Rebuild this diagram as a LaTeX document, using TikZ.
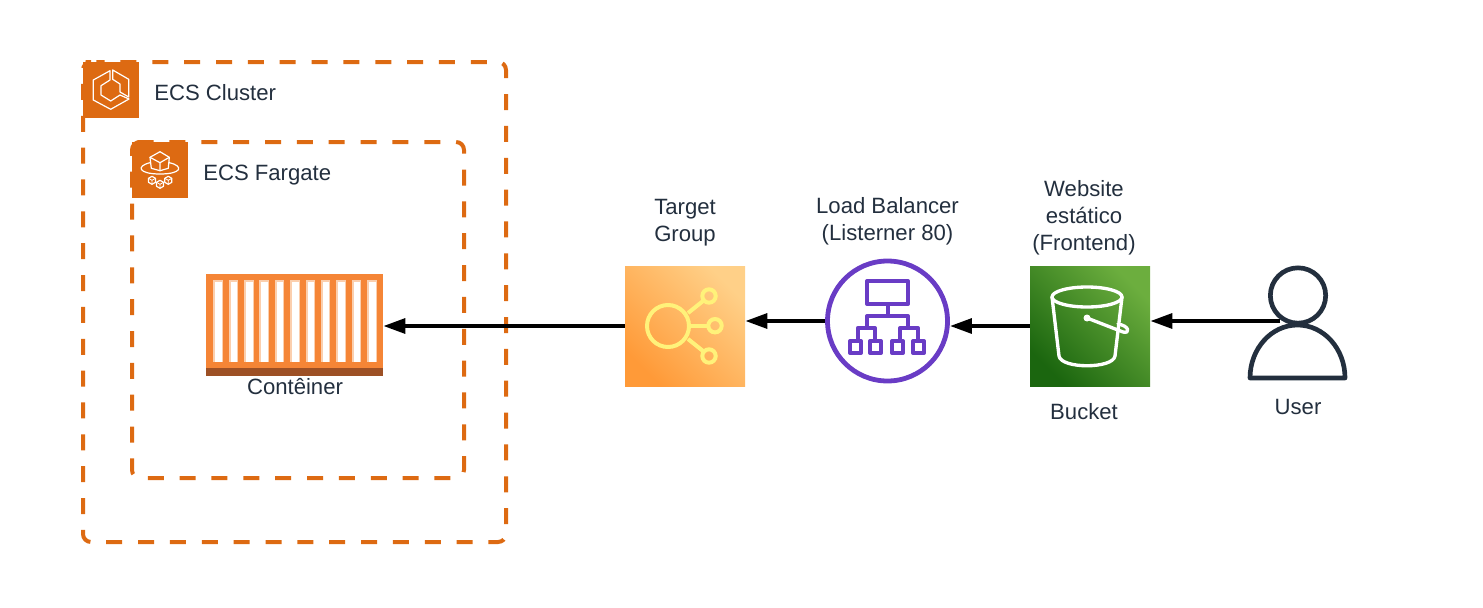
\documentclass[tikz,border=0pt]{standalone}
\usepackage{fontspec}
\setmainfont{Liberation Sans}
\usetikzlibrary{arrows.meta,positioning,calc}
\definecolor{awsorange}{HTML}{DD6A12}
\definecolor{awsink}{HTML}{232F3E}
\definecolor{boxorange}{HTML}{F58536}
\definecolor{boxpale}{HTML}{FBCFAE}
\definecolor{boxbrown}{HTML}{9D5025}
\definecolor{lbpurple}{HTML}{693CC5}
\definecolor{tgdark}{HTML}{FF9A38}
\definecolor{tglight}{HTML}{FFD088}
\definecolor{tgline}{HTML}{FFF27A}
\definecolor{bkdark}{HTML}{1B660F}
\definecolor{bklight}{HTML}{6CAE3E}
\tikzset{
  every node/.style={font=\fontsize{16.6}{20.25}\selectfont, text=awsink, align=center},
  groupbox/.style={inner sep=0pt, outer sep=0pt},
  groupline/.style={draw=awsorange, line width=3pt, dash pattern=on 12pt off 11.89pt, dash phase=7.8pt, rounded corners=6pt},
  grouplabel/.style={anchor=base west, inner sep=0pt},
  iconbox/.style={fill=awsorange, minimum size=42pt, inner sep=0pt},
  tilebox/.style={minimum size=90pt, inner sep=0pt, shading angle=135},
  flow/.style={line width=3pt, draw=black, -{Triangle[length=16.5pt,width=11pt]}},
  iconline/.style={draw=white, line width=0.9pt, line join=round, line cap=round},
}
\begin{document}
\begin{tikzpicture}[x=0.75pt,y=-0.75pt]
\useasboundingbox (0,0) rectangle (1483,607);
% Groups
\node[groupbox, minimum width=317.25pt, minimum height=360pt] (cluster) at (294.5,302) {};
\node[groupbox, minimum width=249pt, minimum height=252pt] (fargate) at (298,310) {};
\foreach \g in {cluster,fargate} {
  \draw[groupline] ([xshift=6pt]\g.north west) -- (\g.north east) -- (\g.south east) -- (\g.south west) -- (\g.north west) -- cycle;
}
\node[iconbox] (clustericon) at (111,90) {};
\node[iconbox] (fargateicon) at (160,170) {};
\node[grouplabel] (clusterlabel) at (154,100) {ECS Cluster};
\node[grouplabel] (fargatelabel) at (203,180) {ECS Fargate};
% Cluster icon
\draw[iconline] (110,70.7) -- (93.3,80) -- (93.3,100) -- (110.7,109.3) -- (129,99) -- (120,95) -- (110.7,101) -- (101,95) -- (101,85.7) -- (110,80) -- cycle;
\draw[iconline] (112.7,70) -- (128.7,79.3) -- (128.7,97) -- (120,92) -- (120,84) -- (112.7,79.3) -- cycle;
% Fargate icon
\draw[iconline] (160,151.7) -- (169.3,157.3) -- (168.3,168.3) -- (160,170.7) -- (151.3,168.3) -- (150,157.3) -- cycle;
\draw[iconline] (150,157.3) -- (160,162.7) -- (169.3,157.3) (160,162.7) -- (160,170.7);
\draw[iconline] (150,162.7) .. controls (136,166) and (138,174) .. (160,174) .. controls (182,174) and (184,166) .. (169.3,162.7);
\foreach \cx/\cy in {152/180.3,168.3/180.3,160/184.3} {
  \draw[iconline, fill=awsorange] (\cx,\cy-4) -- (\cx+3.5,\cy-2) -- (\cx+3.5,\cy+2) -- (\cx,\cy+4) -- (\cx-3.5,\cy+2) -- (\cx-3.5,\cy-2) -- cycle;
  \draw[iconline, line width=0.6pt] (\cx-3.5,\cy-2) -- (\cx,\cy) -- (\cx+3.5,\cy-2) (\cx,\cy) -- (\cx,\cy+4);
}
% Container
\node[fill=boxorange, minimum width=132.75pt, minimum height=76pt, inner sep=0pt] (container) at (294.5,325) {};
\fill[boxbrown] (container.south west) rectangle ($(container.south east)+(0,-8.3)$);
\foreach \i in {0,...,10} {
  \fill[boxpale] ({213.3+15.37*\i},280) rectangle ++(9.6,82);
  \fill[white] ({215.3+15.37*\i},282) rectangle ++(6.6,80);
}
\node (containerlabel) at (295,386.5) {Contêiner};
% Target group
\node[tilebox, left color=tgdark, right color=tglight, shading angle=135] (targetgroup) at (685,326) {};
\node[above=11.25pt of targetgroup.north] (targetlabel) {Target\\Group};
\begin{scope}[draw=tgline, line width=3pt]
  \draw (668,326) circle (21);
  \draw (709,296) circle (6.7);
  \draw (715,325.7) circle (6.7);
  \draw (709,356) circle (6.7);
  \draw (688,313) -- (703,301);
  \draw (690,325.7) -- (707,325.7);
  \draw (688,339) -- (703,351);
\end{scope}
% Load balancer
\node[draw=lbpurple, line width=3.6pt, circle, minimum size=90pt, inner sep=0pt] (balancer) at (887.5,321) {};
\node[above=6.75pt of balancer.north] (balancerlabel) {Load Balancer\\(Listerner 80)};
\begin{scope}[draw=lbpurple, line width=3pt, line join=round]
  \draw (867,281) rectangle (908,304);
  \draw (887.5,304) -- (887.5,316);
  \draw (867,328) -- (867,316) -- (908,316) -- (908,328);
  \draw (857.7,341) -- (857.7,328) -- (875,328) -- (875,341);
  \draw (900,341) -- (900,328) -- (918,328) -- (918,341);
  \foreach \lx in {855.5,875.5,897.5,918.5} {
    \draw (\lx-5.5,341) rectangle (\lx+5.5,353);
  }
\end{scope}
% Bucket
\node[tilebox, left color=bkdark, right color=bklight, shading angle=135] (bucket) at (1090,326) {};
\node[above=4.5pt of bucket.north, xshift=-4.5pt] (websitelabel) {Website\\estático\\(Frontend)};
\node (bucketlabel) at (1084,412) {Bucket};
\begin{scope}[draw=white, line width=2.5pt, line cap=round, line join=round]
  \draw (1087,297) ellipse (35 and 10);
  \draw (1052,297) -- (1059,356) .. controls (1061,369) and (1113,369) .. (1115,356) -- (1122,297);
  \draw (1087,318) -- (1123,332) .. controls (1130,334) and (1130,326) .. (1118,324);
  \fill[white] (1087,318) circle (3.5);
\end{scope}
% User
\node[draw=awsink, line width=3.5pt, circle, minimum size=41.5pt, inner sep=0pt] (userhead) at (1298,295.5) {};
\draw[awsink, line width=3.5pt, line join=round] (1250,378) arc[start angle=180, end angle=360, x radius=47.5, y radius=53] -- cycle;
\coordinate (userbody) at (1280,321);
\node (userlabel) at (1298,407) {User};
% Flow
\draw[flow] (userbody) -- (bucket.east |- userbody);
\draw[flow] (bucket.west) -- (balancer.east |- bucket.west);
\draw[flow] (balancer.west) -- (targetgroup.east |- balancer.west);
\draw[flow] (targetgroup.west) -- (container.east |- targetgroup.west);
\end{tikzpicture}
\end{document}
